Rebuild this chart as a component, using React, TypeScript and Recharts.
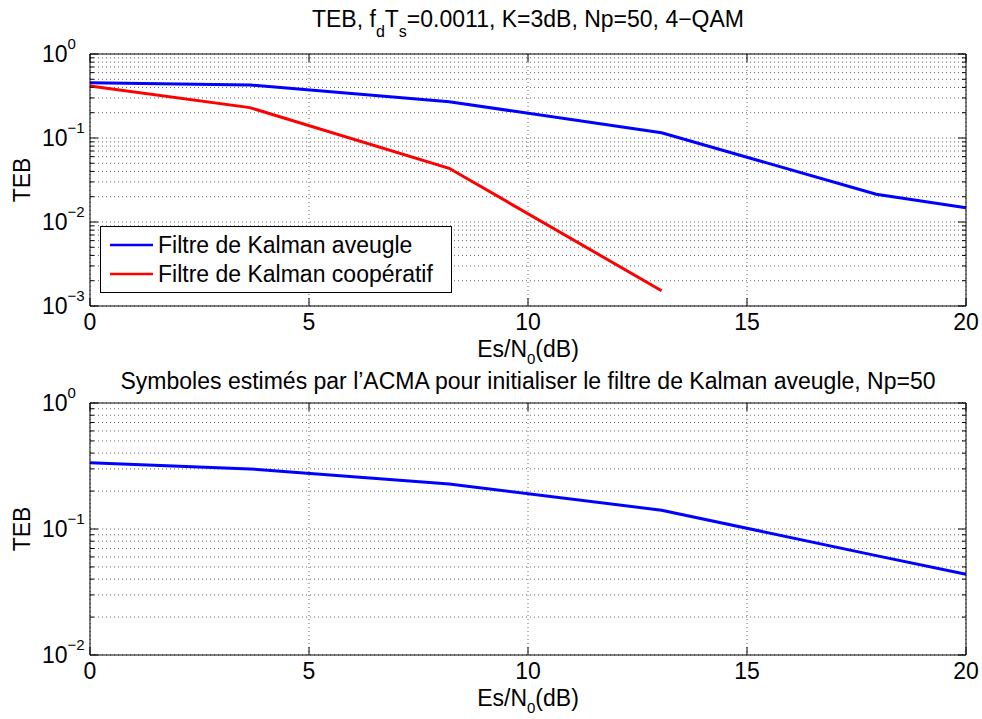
import React from 'react';
import { LineChart, Line, XAxis, YAxis, CartesianGrid } from 'recharts';

// values
const esN0 = [0, 3.65, 8.2, 13.05, 17.95, 20];
const tebAveugle = [0.455, 0.428, 0.27, 0.1156, 0.0214, 0.0148];
const tebCooperatif = [0.416, 0.23, 0.0436, 0.00152];
const tebAcma = [0.336, 0.3, 0.228, 0.141, 0.0615, 0.0437];
const xTicks = [0, 5, 10, 15, 20];
const topDecades = [-3, -2, -1, 0];
const bottomDecades = [-2, -1, 0];

const topData = esN0.map((x, i) => ({
  x,
  aveugle: tebAveugle[i],
  cooperatif: i < tebCooperatif.length ? tebCooperatif[i] : null,
}));
const bottomData = esN0.map((x, i) => ({ x, acma: tebAcma[i] }));

function logTicks(decades: number[]) {
  const out: number[] = [];
  for (let i = 0; i < decades.length - 1; i++) {
    for (let k = 1; k < 10; k++) out.push(Number((k * Math.pow(10, decades[i])).toPrecision(6)));
  }
  out.push(Math.pow(10, decades[decades.length - 1]));
  return out;
}

const W = 982;
const H = 360;
const L = 90;
const R = 966;
const T = 54;
const B = 306;
const FONT = '"Liberation Sans", Arial, Helvetica, sans-serif';
const FS = 23;

const isDecade = (v: number) => Math.abs(Math.log10(v) - Math.round(Math.log10(v))) < 1e-6;

function LeftTick({ y, payload }: any) {
  const v = payload.value;
  const major = isDecade(v);
  const e = Math.round(Math.log10(v));
  return (
    <g>
      <line x1={L} x2={L + (major ? 8 : 4)} y1={y} y2={y} stroke="#000" />
      {major && (
        <text x={42} y={y + 8} fontSize={FS} fontFamily={FONT} fill="#000">
          10
          <tspan dy={-13} fontSize={15}>
            {e < 0 ? `\u2212${-e}` : `${e}`}
          </tspan>
        </text>
      )}
    </g>
  );
}

function RightTick({ y, payload }: any) {
  const major = isDecade(payload.value);
  return <line x1={R} x2={R - (major ? 8 : 4)} y1={y} y2={y} stroke="#000" />;
}

function BottomTick({ x, payload }: any) {
  return (
    <g>
      <line x1={x} x2={x} y1={B} y2={B - 8} stroke="#000" />
      <text x={x} y={B + 24} textAnchor="middle" fontSize={FS} fontFamily={FONT} fill="#000">
        {payload.value}
      </text>
    </g>
  );
}

function TopTick({ x }: any) {
  return <line x1={x} x2={x} y1={T} y2={T + 8} stroke="#000" />;
}

function Panel({ data, decades, series }: { data: any[]; decades: number[]; series: { key: string; color: string }[] }) {
  const ticks = logTicks(decades);
  const domain = [Math.pow(10, decades[0]), Math.pow(10, decades[decades.length - 1])];
  return (
    <LineChart width={W} height={H} data={data} margin={{ top: 0, right: 0, bottom: 0, left: 0 }}>
      <CartesianGrid stroke="#666" strokeDasharray="1 3" />
      <XAxis
        dataKey="x"
        type="number"
        domain={[0, 20]}
        ticks={xTicks}
        interval={0}
        height={54}
        axisLine={{ stroke: '#000' }}
        tickLine={false}
        tick={<BottomTick />}
      />
      <XAxis
        xAxisId="top"
        orientation="top"
        dataKey="x"
        type="number"
        domain={[0, 20]}
        ticks={xTicks}
        interval={0}
        height={54}
        axisLine={{ stroke: '#000' }}
        tickLine={false}
        tick={<TopTick />}
      />
      <YAxis
        type="number"
        scale="log"
        domain={domain}
        allowDataOverflow
        ticks={ticks}
        interval={0}
        width={90}
        axisLine={{ stroke: '#000' }}
        tickLine={false}
        tick={<LeftTick />}
      />
      <YAxis
        yAxisId="right"
        orientation="right"
        type="number"
        scale="log"
        domain={domain}
        allowDataOverflow
        ticks={ticks}
        interval={0}
        width={16}
        axisLine={{ stroke: '#000' }}
        tickLine={false}
        tick={<RightTick />}
      />
      {series.map((s) => (
        <Line
          key={s.key}
          dataKey={s.key}
          type="linear"
          stroke={s.color}
          strokeWidth={3}
          dot={false}
          activeDot={false}
          isAnimationActive={false}
        />
      ))}
    </LineChart>
  );
}

function XLabel({ y }: { y: number }) {
  return (
    <text x={(L + R) / 2} y={y} textAnchor="middle" fontSize={FS}>
      Es/N
      <tspan dy={7} fontSize={15}>0</tspan>
      <tspan dy={-7}>(dB)</tspan>
    </text>
  );
}

export default function App() {
  const top2 = 403 - T;
  return (
    <div style={{ position: 'absolute', left: 0, top: 0, width: 982, height: 719, background: '#fff', fontFamily: FONT }}>
      <div style={{ position: 'absolute', left: 0, top: 0 }}>
        <Panel
          data={topData}
          decades={topDecades}
          series={[
            { key: 'aveugle', color: '#0000ff' },
            { key: 'cooperatif', color: '#ff0000' },
          ]}
        />
      </div>
      <div style={{ position: 'absolute', left: 0, top: top2 }}>
        <Panel data={bottomData} decades={bottomDecades} series={[{ key: 'acma', color: '#0000ff' }]} />
      </div>
      <svg
        width={982}
        height={719}
        style={{ position: 'absolute', left: 0, top: 0, pointerEvents: 'none' }}
        fontFamily={FONT}
        fill="#000"
      >
        <text x={(L + R) / 2} y={27} textAnchor="middle" fontSize={FS}>
          TEB, f
          <tspan dy={10} fontSize={16}>d</tspan>
          <tspan dy={-10}>T</tspan>
          <tspan dy={10} fontSize={16}>s</tspan>
          <tspan dy={-10}>=0.0011, K=3dB, Np=50, 4−QAM</tspan>
        </text>
        <XLabel y={357} />
        <text transform={`translate(30,${(T + B) / 2}) rotate(-90)`} textAnchor="middle" fontSize={FS}>
          TEB
        </text>

        <rect x={100.5} y={226.5} width={351} height={66} fill="#fff" stroke="#000" />
        <line x1={110} x2={153} y1={245} y2={245} stroke="#0000ff" strokeWidth={2.5} />
        <text x={158} y={253} fontSize={FS}>Filtre de Kalman aveugle</text>
        <line x1={110} x2={153} y1={274} y2={274} stroke="#ff0000" strokeWidth={2.5} />
        <text x={158} y={282} fontSize={FS}>Filtre de Kalman coopératif</text>

        <text x={(L + R) / 2} y={389} textAnchor="middle" fontSize={FS}>
          Symboles estimés par l’ACMA pour initialiser le filtre de Kalman aveugle, Np=50
        </text>
        <XLabel y={top2 + 357} />
        <text transform={`translate(30,${top2 + (T + B) / 2}) rotate(-90)`} textAnchor="middle" fontSize={FS}>
          TEB
        </text>
      </svg>
    </div>
  );
}
